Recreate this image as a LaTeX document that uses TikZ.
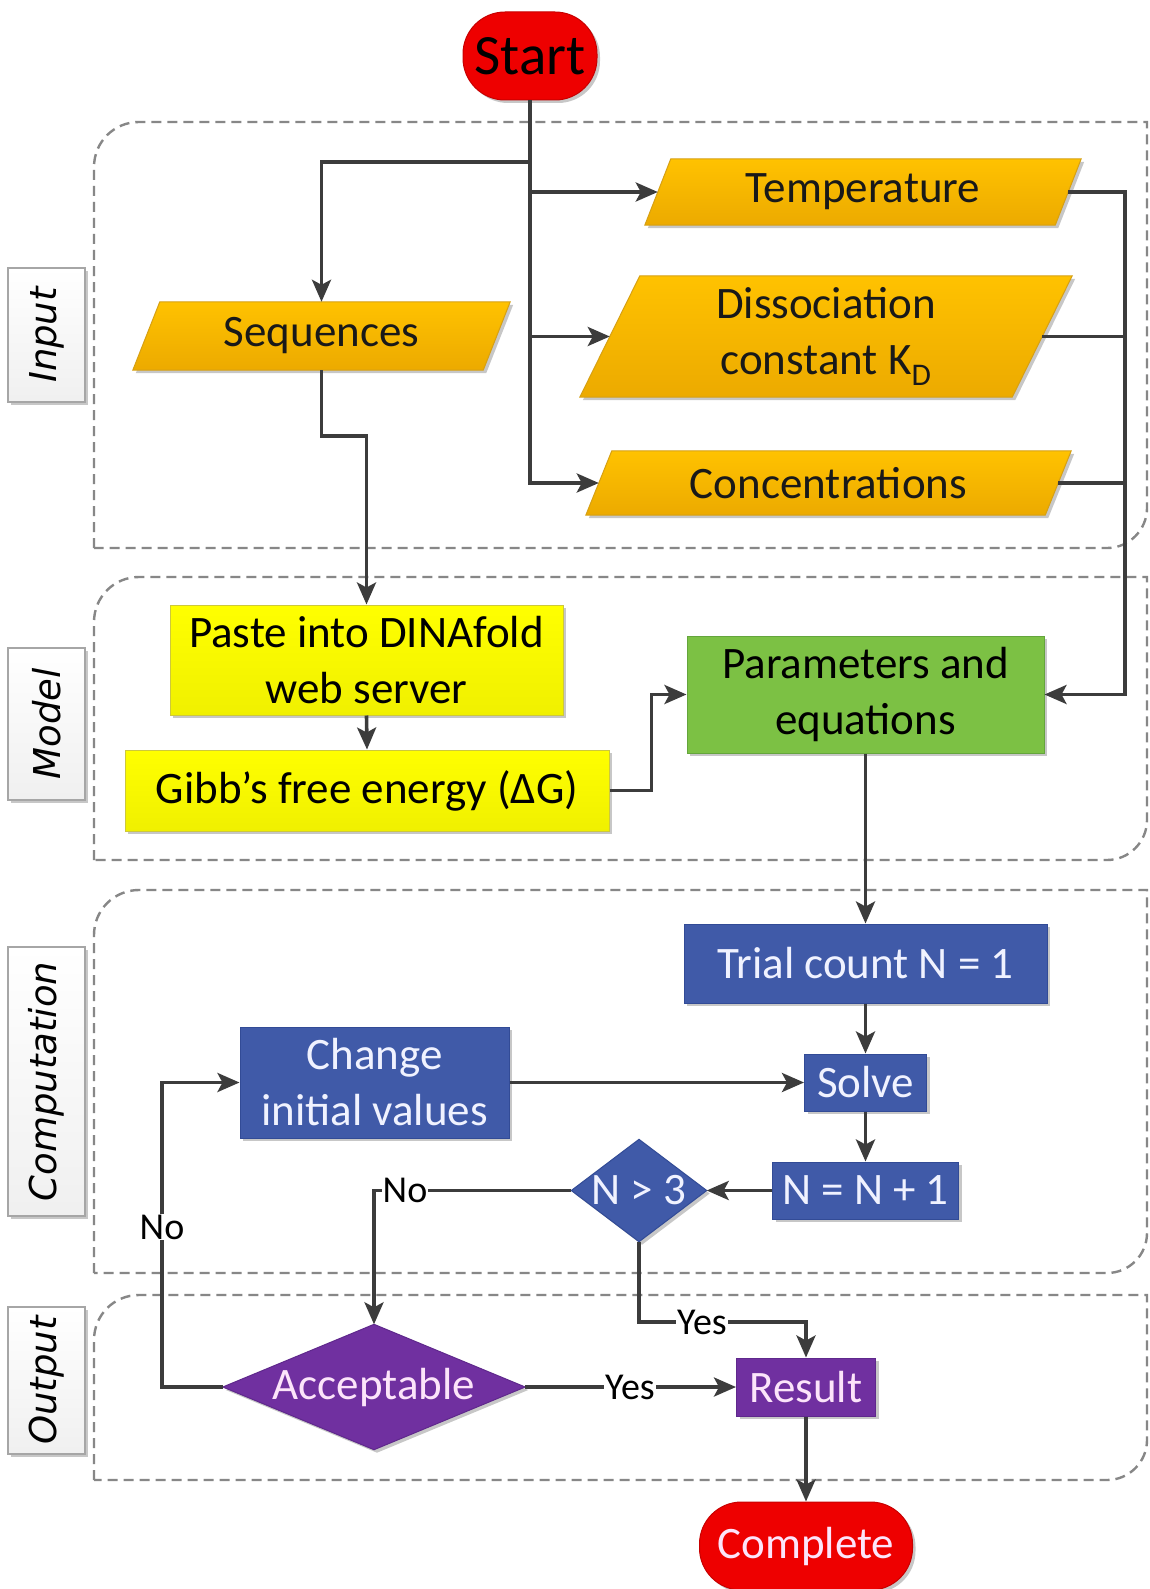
\documentclass[tikz,border=0pt]{standalone}
\usepackage{fontspec}
\usepackage{graphicx}
\setmainfont{Carlito}
\newfontfamily\lanefont{DejaVu Sans}
\usetikzlibrary{arrows.meta,shadows,calc}
\pgfdeclarelayer{bg}
\pgfsetlayers{bg,main}

\definecolor{linegray}{RGB}{60,60,60}
\definecolor{lanegray}{RGB}{135,135,135}
\definecolor{startred}{RGB}{238,0,0}
\definecolor{startedge}{RGB}{200,0,0}
\definecolor{orangetop}{RGB}{255,194,0}
\definecolor{orangebot}{RGB}{236,170,0}
\definecolor{orangeedge}{RGB}{214,160,20}
\definecolor{yellowtop}{RGB}{255,255,0}
\definecolor{yellowbot}{RGB}{240,240,0}
\definecolor{yellowedge}{RGB}{205,200,60}
\definecolor{greenfill}{RGB}{124,193,68}
\definecolor{greenedge}{RGB}{100,165,60}
\definecolor{bluefill}{RGB}{64,90,168}
\definecolor{blueedge}{RGB}{50,75,150}
\definecolor{purplefill}{RGB}{112,48,160}
\definecolor{purpleedge}{RGB}{95,40,140}
\definecolor{lighttext}{RGB}{240,242,255}
\definecolor{pinktext}{RGB}{252,228,250}

\newcommand\bigfont{\fontsize{45}{56}\selectfont}

\tikzset{
  softshadow/.style={drop shadow={shadow xshift=3pt, shadow yshift=-3pt, opacity=0.22, fill=black}},
  box/.style={rectangle, inner sep=0pt, align=center, font=\bigfont},
  terminal/.style={box, rounded corners=42pt, fill=startred, draw=startedge, line width=1pt, softshadow},
  datashape/.style={box, text=black!90},
  yellowbox/.style={box, top color=yellowtop, bottom color=yellowbot, draw=yellowedge, line width=1pt, softshadow},
  greenbox/.style={box, fill=greenfill, draw=greenedge, line width=1pt, softshadow},
  bluebox/.style={box, fill=bluefill, draw=blueedge, line width=1pt, softshadow, text=lighttext},
  purplebox/.style={box, fill=purplefill, draw=purpleedge, line width=1pt, softshadow, text=pinktext},
  lanetag/.style={rectangle, inner sep=0pt, minimum width=77pt, top color=white, bottom color=black!6,
    draw=black!35, line width=1.5pt, softshadow, font=\lanefont\itshape\fontsize{37}{40}\selectfont},
  lane/.style={draw=lanegray, line width=2.4pt, dash pattern=on 10pt off 6pt},
  conn/.style={draw=linegray, line width=3.6pt},
  arr/.style={conn, -{Stealth[length=22pt,width=19pt,inset=5pt]}},
  edgetag/.style={fill=white, inner sep=1pt, font=\fontsize{38}{40}\selectfont, text=black},
}

% dashed swimlane frame, rounded at top left and bottom right
\newcommand\lanepath[2]{%
  \draw[lane] (94,#2) -- (94,#1+45) .. controls (94,#1+20) and (114,#1) .. (139,#1)
    -- (1147,#1) -- (1147,#2-40) .. controls (1147,#2-18) and (1129,#2) .. (1107,#2) -- cycle;}

% slanted data (input) outline behind a text node
\newcommand\dataoutline[2]{%
  \begin{pgfonlayer}{bg}
  \path[top color=orangetop, bottom color=orangebot, draw=orangeedge, line width=1pt, softshadow]
    ([xshift=#2pt]#1.north west) -- (#1.north east) -- ([xshift=-#2pt]#1.south east)
    -- (#1.south west) -- cycle;
  \end{pgfonlayer}}

% decision diamond behind a text node
\newcommand\diamondoutline[2]{%
  \begin{pgfonlayer}{bg}
  \path[fill=#2fill, draw=#2edge, line width=1pt, softshadow]
    (#1.north) -- (#1.east) -- (#1.south) -- (#1.west) -- cycle;
  \end{pgfonlayer}}

\begin{document}
\begin{tikzpicture}[x=1pt, y=-1pt]
\useasboundingbox (0,0) rectangle (1149,1589);
\begin{pgfonlayer}{bg}
  \fill[white] (0,0) rectangle (1149,1589);
  \lanepath{122}{548}
  \lanepath{577}{860}
  \lanepath{890}{1273}
  \lanepath{1295}{1480}
\end{pgfonlayer}

% lane tags
\node[lanetag, minimum height=134pt] (tagin) at (46.5,335) {\rotatebox{90}{Input}};
\node[lanetag, minimum height=152pt] (tagmodel) at (46.5,724) {\rotatebox{90}{Model}};
\node[lanetag, minimum height=269pt] (tagcomp) at (46.5,1081.5) {\rotatebox{90}{Computation}};
\node[lanetag, minimum height=147pt] (tagout) at (46.5,1380.5) {\rotatebox{90}{Output}};

% nodes
\node[terminal, minimum width=134pt, minimum height=88pt, font=\fontsize{57}{60}\selectfont, text=black] (start) at (530,56) {Start};

\node[datashape, minimum width=436pt, minimum height=66pt] (temp) at (863,192) {Temperature};
\node[datashape, minimum width=492pt, minimum height=121pt] (diss) at (826,336.5) {Dissociation\\constant K\textsubscript{D}};
\node[datashape, minimum width=485pt, minimum height=64pt] (conc) at (828.5,483) {Concentrations};
\node[datashape, minimum width=377pt, minimum height=68pt] (seq) at (321.5,336) {Sequences};
\dataoutline{temp}{26}
\dataoutline{diss}{60}
\dataoutline{conc}{26}
\dataoutline{seq}{27}

\node[yellowbox, minimum width=393pt, minimum height=110pt, text=black] (paste) at (366.5,660) {Paste into DINAfold\\web server};
\node[yellowbox, minimum width=484pt, minimum height=81pt, text=black] (gibbs) at (367,790.5) {Gibb’s free energy (ΔG)};
\node[greenbox, minimum width=357pt, minimum height=117pt, text=black] (params) at (865.5,694.5) {Parameters and\\equations};

\node[bluebox, minimum width=363pt, minimum height=79pt] (trial) at (865.5,963.5) {Trial count N = 1};
\node[bluebox, minimum width=122pt, minimum height=57pt] (solve) at (865.5,1082.5) {Solve};
\node[bluebox, minimum width=186pt, minimum height=57pt] (inc) at (865.5,1190.5) {N = N + 1};
\node[box, text=lighttext, minimum width=135pt, minimum height=102pt] (check) at (639,1190.5) {N > 3};
\diamondoutline{check}{blue}
\node[bluebox, minimum width=269pt, minimum height=111pt] (change) at (374.5,1082.5) {Change\\initial values};

\node[box, text=pinktext, minimum width=302pt, minimum height=125pt] (accept) at (374,1387) {Acceptable};
\diamondoutline{accept}{purple}
\node[purplebox, minimum width=139pt, minimum height=58pt] (result) at (806,1387) {Result};
\node[terminal, minimum width=213pt, minimum height=88pt, text=pinktext] (complete) at (806,1546) {Complete};

% connectors
\coordinate (split) at (530,162);
\draw[conn] (start.south) -- (split);
\draw[arr] (split) -| (seq.north);
\draw[arr] (start.south) |- ([xshift=13pt]temp.west);
\draw[arr] (start.south) |- ([xshift=30pt]diss.west);
\draw[arr] (start.south) |- ([xshift=13pt]conc.west);
\draw[arr] (seq.south) -- ++(0,66) -| (paste.north);
\draw[arr] (paste.south) -- (gibbs.north);
\draw[arr] (gibbs.east) -- ++(42,0) |- (params.west);
\coordinate (bus) at (1125,192);
\draw[arr] ([xshift=-13pt]temp.east) -- (bus) |- (params.east);
\draw[conn] ([xshift=-30pt]diss.east) -- (diss.east -| bus);
\draw[conn] ([xshift=-13pt]conc.east) -- (conc.east -| bus);

\draw[arr] (params.south) -- (trial.north);
\draw[arr] (trial.south) -- (solve.north);
\draw[arr] (solve.south) -- (inc.north);
\draw[arr] (inc.west) -- (check.east);
\draw[arr] (change.east) -- (solve.west);
\draw[arr] (check.west) -| (accept.north);
\draw[arr] (check.south) -- ++(0,80) -| (result.north);
\draw[arr] (accept.east) -- (result.west);
\draw[arr] (accept.west) -- ++(-61,0) |- (change.west);
\draw[arr] (result.south) -- (complete.north);

% branch labels
\node[edgetag] (nolabel1) at (405,1190.5) {No};
\node[edgetag] (yeslabel1) at (702,1322) {Yes};
\node[edgetag] (yeslabel2) at (630,1387) {Yes};
\node[edgetag] (nolabel2) at (162,1227) {No};
\end{tikzpicture}
\end{document}
